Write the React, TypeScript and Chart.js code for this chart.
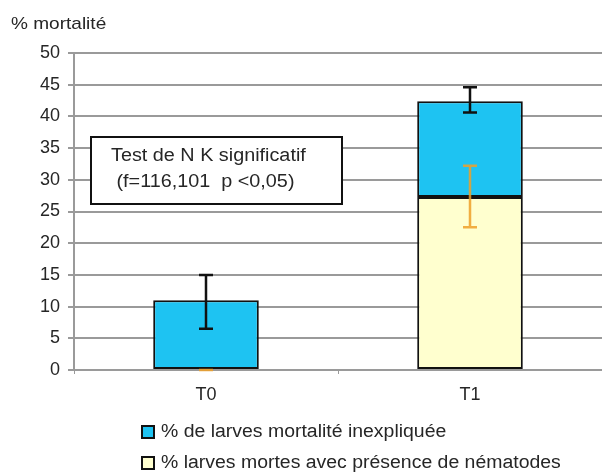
import React, { useEffect, useRef } from 'react';
import { Chart, registerables } from 'chart.js';

Chart.register(...registerables);

// ---- Data ----
const categories = ['T0', 'T1'];
const nematodePct = [0, 27.3];
const unexplainedPct = [11, 15.1];
const unexplainedErrLow = [6.5, 40.6];
const unexplainedErrHigh = [15, 44.6];
const nematodeErrLow = [0, 22.5];
const nematodeErrHigh = [0, 32.2];
const seriesLabels = ['% larves mortes avec présence de nématodes', '% de larves mortalité inexpliquée'];
const yAxisTitle = '% mortalité';
const noteLines = ['Test de N K significatif', ' (f=116,101  p <0,05)'];
const yMin = 0;
const yMax = 50;
const yStep = 5;

const FONT = "'Liberation Sans', Arial, sans-serif";
const BLUE = '#1ec3f2';
const YELLOW = '#ffffcf';
const ORANGE = 'rgba(238,160,40,0.85)';
const GRID = '#9a9a9a';
const TEXT = '#262626';

function wideText(ctx: any, text: string, x: number, y: number, sx: number) {
  ctx.save();
  ctx.translate(x, y);
  ctx.scale(sx, 1);
  ctx.fillText(text, 0, 0);
  ctx.restore();
}

const overlayPlugin = {
  id: 'overlay',
  afterDatasetsDraw(chart: any) {
    const ctx = chart.ctx;
    const y = chart.scales.y;
    const sets = [
      { d: 1, low: unexplainedErrLow, high: unexplainedErrHigh, color: '#111', w: 2.5 },
      { d: 0, low: nematodeErrLow, high: nematodeErrHigh, color: ORANGE, w: 2.5 },
    ];
    ctx.save();
    sets.forEach((s) => {
      const meta = chart.getDatasetMeta(s.d);
      meta.data.forEach((el: any, i: number) => {
        const x = el.x;
        const yl = y.getPixelForValue(s.low[i]);
        const yh = y.getPixelForValue(s.high[i]);
        ctx.strokeStyle = s.color;
        ctx.lineWidth = s.w;
        ctx.beginPath();
        ctx.moveTo(x, yl);
        ctx.lineTo(x, yh);
        ctx.moveTo(x - 7, yl);
        ctx.lineTo(x + 7, yl);
        ctx.moveTo(x - 7, yh);
        ctx.lineTo(x + 7, yh);
        ctx.stroke();
      });
    });
    ctx.restore();
  },
  afterDraw(chart: any) {
    const ctx = chart.ctx;
    ctx.save();
    // note box
    ctx.fillStyle = '#fff';
    ctx.fillRect(91, 137, 251, 67);
    ctx.strokeStyle = '#111';
    ctx.lineWidth = 2;
    ctx.strokeRect(91, 137, 251, 67);
    ctx.fillStyle = TEXT;
    ctx.font = `18px ${FONT}`;
    ctx.textBaseline = 'middle';
    ctx.textAlign = 'left';
    wideText(ctx, noteLines[0], 111, 156, 1.1);
    wideText(ctx, noteLines[1], 111, 182, 1.1);
    // y axis title
    ctx.font = `17px ${FONT}`;
    wideText(ctx, yAxisTitle, 11, 24, 1.12);
    // legend (blue first)
    const order = [1, 0];
    order.forEach((d, k) => {
      const ds = chart.data.datasets[d];
      const cy = 432 + k * 31;
      ctx.fillStyle = ds.backgroundColor;
      ctx.fillRect(142, cy - 6, 12, 12);
      ctx.strokeStyle = '#111';
      ctx.lineWidth = 2;
      ctx.strokeRect(142, cy - 6, 12, 12);
      ctx.fillStyle = TEXT;
      ctx.font = `18px ${FONT}`;
      wideText(ctx, ds.label, 161, cy, 1.08);
    });
    ctx.restore();
  },
};

export default function App() {
  const ref = useRef<HTMLCanvasElement | null>(null);
  useEffect(() => {
    if (!ref.current) return;
    const chart = new Chart(ref.current, {
      type: 'bar',
      data: {
        labels: categories,
        datasets: [
          {
            label: seriesLabels[0],
            data: nematodePct,
            backgroundColor: YELLOW,
            borderColor: '#111',
            borderWidth: 2,
            borderSkipped: false,
            categoryPercentage: 1,
            barPercentage: 0.4,
          },
          {
            label: seriesLabels[1],
            data: unexplainedPct,
            backgroundColor: BLUE,
            borderColor: '#111',
            borderWidth: 2,
            borderSkipped: false,
            categoryPercentage: 1,
            barPercentage: 0.4,
          },
        ],
      },
      options: {
        responsive: false,
        animation: false,
        devicePixelRatio: 1,
        layout: { padding: { top: 53, left: 0, right: 0, bottom: 0 } },
        plugins: { legend: { display: false }, tooltip: { enabled: false }, title: { display: false } },
        scales: {
          x: {
            stacked: true,
            grid: { display: true, drawOnChartArea: false, drawTicks: true, tickLength: 4, offset: true, color: GRID, lineWidth: 1 },
            border: { display: true, color: GRID, width: 2 },
            ticks: { color: TEXT, font: { family: FONT, size: 18 }, padding: 10 },
            afterFit: (s: any) => { s.height = 104; },
          },
          y: {
            stacked: true,
            min: yMin,
            max: yMax,
            ticks: { stepSize: yStep, color: TEXT, font: { family: FONT, size: 18 }, padding: 8 },
            grid: { color: GRID, lineWidth: 2, tickLength: 6, drawTicks: true },
            border: { display: true, color: GRID, width: 2 },
            afterFit: (s: any) => { s.width = 74; },
          },
        },
      },
      plugins: [overlayPlugin],
    });
    return () => chart.destroy();
  }, []);
  return (
    <canvas
      ref={ref}
      width={602}
      height={474}
      style={{ position: 'absolute', left: 0, top: 0, width: '602px', height: '474px', background: '#fff' }}
    />
  );
}
